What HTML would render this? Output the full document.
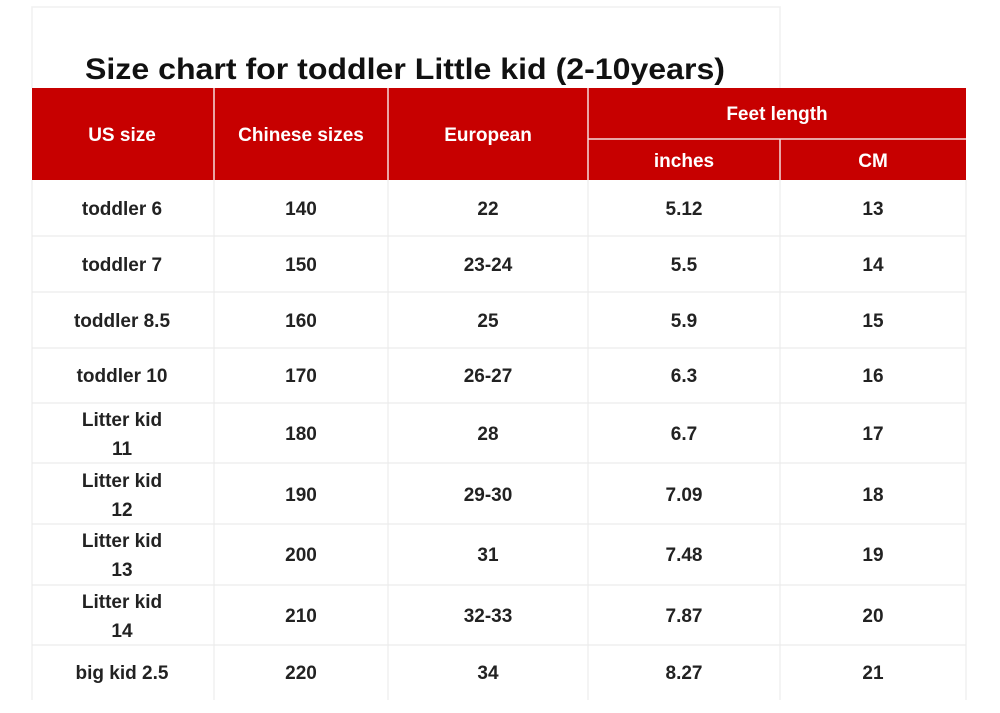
<!DOCTYPE html>
<html><head><meta charset="utf-8"><style>
html,body{margin:0;padding:0;background:#fff;}
svg{display:block;}
</style></head><body>
<svg width="1000" height="713" xmlns="http://www.w3.org/2000/svg" font-family="Liberation Sans, Arial, sans-serif">
<rect width="1000" height="713" fill="#fff"/>
<path d="M32 88 V7 H780 V88" fill="none" stroke="#f0f0f0" stroke-width="1.5"/>
<text x="85" y="79" font-size="30" font-weight="bold" fill="#111" textLength="640" lengthAdjust="spacingAndGlyphs">Size chart for toddler Little kid (2-10years)</text>
<rect x="32" y="88" width="934" height="92" fill="#c70000"/>
<g stroke="#f4dcdc" stroke-width="1.5">
<line x1="214" y1="88" x2="214" y2="180"/>
<line x1="388" y1="88" x2="388" y2="180"/>
<line x1="588" y1="88" x2="588" y2="180"/>
<line x1="780" y1="139" x2="780" y2="180"/>
<line x1="588" y1="139" x2="966" y2="139"/>
</g>
<g fill="#fff" font-size="19" font-weight="bold" text-anchor="middle">
<text x="122" y="141">US size</text>
<text x="301" y="141">Chinese sizes</text>
<text x="488" y="141">European</text>
<text x="777" y="120">Feet length</text>
<text x="684" y="167">inches</text>
<text x="873" y="167">CM</text>
</g>
<g stroke="#ececec" stroke-width="1.2">
<line x1="32" y1="236" x2="966" y2="236"/>
<line x1="32" y1="292" x2="966" y2="292"/>
<line x1="32" y1="348" x2="966" y2="348"/>
<line x1="32" y1="403" x2="966" y2="403"/>
<line x1="32" y1="463" x2="966" y2="463"/>
<line x1="32" y1="524" x2="966" y2="524"/>
<line x1="32" y1="585" x2="966" y2="585"/>
<line x1="32" y1="645" x2="966" y2="645"/>
<line x1="214" y1="180" x2="214" y2="700"/>
<line x1="388" y1="180" x2="388" y2="700"/>
<line x1="588" y1="180" x2="588" y2="700"/>
<line x1="780" y1="180" x2="780" y2="700"/>
<line x1="966" y1="180" x2="966" y2="700"/>
<line x1="32" y1="180" x2="32" y2="700"/>
</g>
<g fill="#222" font-size="19" font-weight="bold" text-anchor="middle">
<text x="122" y="215">toddler 6</text><text x="301" y="215">140</text><text x="488" y="215">22</text><text x="684" y="215">5.12</text><text x="873" y="215">13</text>
<text x="122" y="271">toddler 7</text><text x="301" y="271">150</text><text x="488" y="271">23-24</text><text x="684" y="271">5.5</text><text x="873" y="271">14</text>
<text x="122" y="327">toddler 8.5</text><text x="301" y="327">160</text><text x="488" y="327">25</text><text x="684" y="327">5.9</text><text x="873" y="327">15</text>
<text x="122" y="382">toddler 10</text><text x="301" y="382">170</text><text x="488" y="382">26-27</text><text x="684" y="382">6.3</text><text x="873" y="382">16</text>
<text x="122" y="426">Litter kid</text><text x="122" y="455">11</text><text x="301" y="440">180</text><text x="488" y="440">28</text><text x="684" y="440">6.7</text><text x="873" y="440">17</text>
<text x="122" y="487">Litter kid</text><text x="122" y="516">12</text><text x="301" y="501">190</text><text x="488" y="501">29-30</text><text x="684" y="501">7.09</text><text x="873" y="501">18</text>
<text x="122" y="547">Litter kid</text><text x="122" y="576">13</text><text x="301" y="561">200</text><text x="488" y="561">31</text><text x="684" y="561">7.48</text><text x="873" y="561">19</text>
<text x="122" y="608">Litter kid</text><text x="122" y="637">14</text><text x="301" y="622">210</text><text x="488" y="622">32-33</text><text x="684" y="622">7.87</text><text x="873" y="622">20</text>
<text x="122" y="679">big kid 2.5</text><text x="301" y="679">220</text><text x="488" y="679">34</text><text x="684" y="679">8.27</text><text x="873" y="679">21</text>
</g>
</svg>
</body></html>
